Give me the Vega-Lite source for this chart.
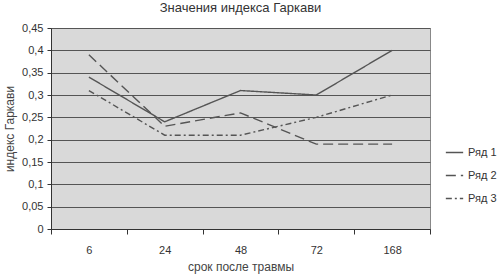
{
  "$schema": "https://vega.github.io/schema/vega-lite/v6.json",
  "width": 379,
  "height": 201,
  "autosize": {"type": "none"},
  "padding": {"left": 51, "top": 28, "right": 70, "bottom": 46},
  "background": "white",
  "title": {"text": "Значения индекса Гаркави", "font": "Liberation Sans", "fontSize": 13, "fontWeight": "normal", "color": "#333", "offset": 7, "anchor": "middle"},
  "config": {
    "font": "Liberation Sans",
    "view": {"fill": "#d9d9d9", "stroke": "#888", "strokeWidth": 1}
  },
  "data": {"values": [
    {"t": "6", "s": "Ряд 1", "v": 0.34},
    {"t": "24", "s": "Ряд 1", "v": 0.24},
    {"t": "48", "s": "Ряд 1", "v": 0.31},
    {"t": "72", "s": "Ряд 1", "v": 0.30},
    {"t": "168", "s": "Ряд 1", "v": 0.40},
    {"t": "6", "s": "Ряд 2", "v": 0.39},
    {"t": "24", "s": "Ряд 2", "v": 0.23},
    {"t": "48", "s": "Ряд 2", "v": 0.26},
    {"t": "72", "s": "Ряд 2", "v": 0.19},
    {"t": "168", "s": "Ряд 2", "v": 0.19},
    {"t": "6", "s": "Ряд 3", "v": 0.31},
    {"t": "24", "s": "Ряд 3", "v": 0.21},
    {"t": "48", "s": "Ряд 3", "v": 0.21},
    {"t": "72", "s": "Ряд 3", "v": 0.25},
    {"t": "168", "s": "Ряд 3", "v": 0.30}
  ]},
  "mark": {"type": "line", "color": "#555", "strokeWidth": 1.4},
  "encoding": {
    "x": {
      "field": "t", "type": "ordinal", "sort": ["6", "24", "48", "72", "168"],
      "scale": {"type": "band", "paddingInner": 0, "paddingOuter": 0},
      "axis": {"title": "срок после травмы", "titleFontSize": 12, "titleFontWeight": "normal", "titleColor": "#444", "titlePadding": 6,
               "labelAngle": 0, "labelFontSize": 11, "labelColor": "#333", "labelPadding": 10,
               "tickBand": "extent", "tickExtra": true, "tickColor": "#333", "tickSize": 5, "domainColor": "#333", "grid": false}
    },
    "y": {
      "field": "v", "type": "quantitative",
      "scale": {"domain": [0, 0.45], "nice": false},
      "axis": {"title": "индекс Гаркави", "titleFontSize": 12, "titleFontWeight": "normal", "titleColor": "#444", "titlePadding": 5,
               "values": [0, 0.05, 0.1, 0.15, 0.2, 0.25, 0.3, 0.35, 0.4, 0.45],
               "labelExpr": "replace(format(datum.value, '.2~f'), '.', ',')",
               "labelFontSize": 11, "labelColor": "#333", "labelPadding": 4,
               "tickColor": "#333", "tickSize": 4, "domainColor": "#333",
               "grid": true, "gridColor": "#555", "gridWidth": 1}
    },
    "strokeDash": {
      "field": "s", "type": "nominal",
      "scale": {"domain": ["Ряд 1", "Ряд 2", "Ряд 3"], "range": [[1, 0], [10, 5], [6, 3, 2, 3]]},
      "legend": {"title": null, "orient": "none", "legendX": 394, "legendY": 115, "symbolType": "stroke", "symbolStrokeColor": "#555", "symbolSize": 300, "symbolStrokeWidth": 1.4, "labelFontSize": 11, "labelColor": "#333", "rowPadding": 8}
    }
  }
}
